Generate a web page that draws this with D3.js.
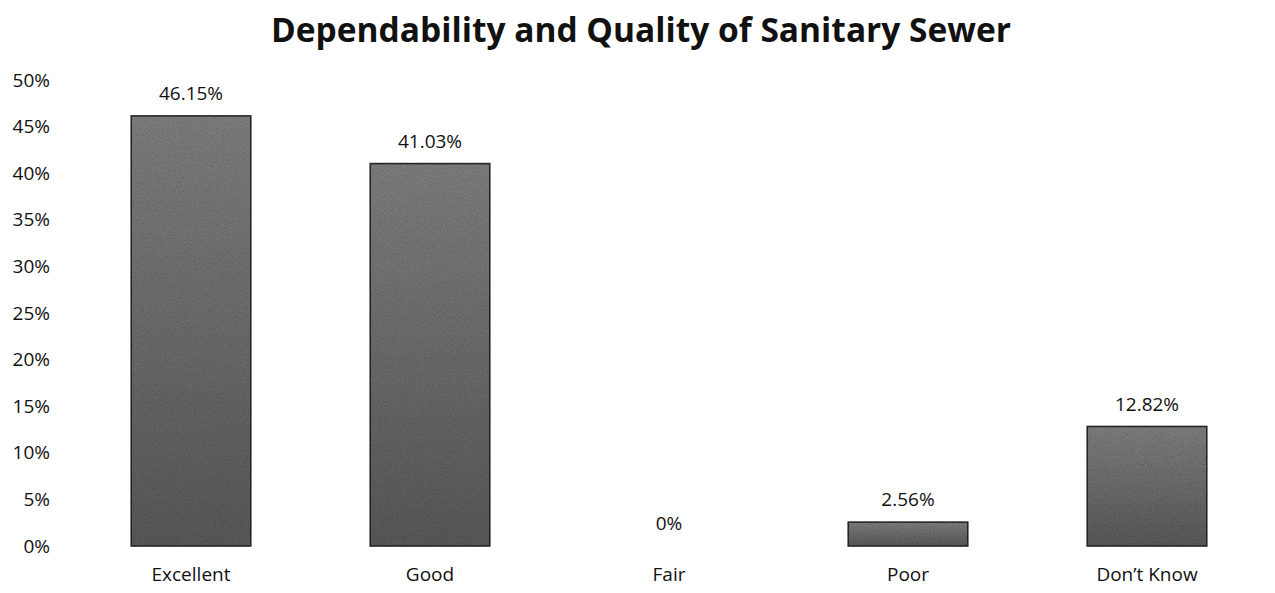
<!DOCTYPE html>
<meta charset="utf-8">
<script src="https://d3js.org/d3.v7.min.js"></script>
<style>
  body { margin: 0; background: #fff; }
  text { font-family: "Open Sans", sans-serif; fill: #111; }
</style>
<div class="chart"></div>
<script>
  // data
  const categories = ["Excellent", "Good", "Fair", "Poor", "Don\u2019t Know"];
  const values = [46.15, 41.03, 0, 2.56, 12.82];
  const valueLabels = ["46.15%", "41.03%", "0%", "2.56%", "12.82%"];
  const yTicks = [0, 5, 10, 15, 20, 25, 30, 35, 40, 45, 50];

  const width = 1275,
        height = 593;

  const svg = d3.select('.chart')
                .append('svg')
                .attr('width', width)
                .attr('height', height);

  const defs = svg.append("defs");
  const grad = defs.append("linearGradient")
                   .attr("id", "barFill")
                   .attr("x1", 0).attr("y1", 0)
                   .attr("x2", 0).attr("y2", 1);
  grad.append("stop").attr("offset", "0%").attr("stop-color", "#858585");
  grad.append("stop").attr("offset", "100%").attr("stop-color", "#5e5e5e");

  // speckle to look a bit like the scanned texture
  const filt = defs.append("filter").attr("id", "grain");
  filt.append("feTurbulence")
      .attr("type", "fractalNoise")
      .attr("baseFrequency", 0.9)
      .attr("numOctaves", 2)
      .attr("result", "noise");
  filt.append("feColorMatrix")
      .attr("in", "noise")
      .attr("type", "matrix")
      .attr("values", "0 0 0 0 0  0 0 0 0 0  0 0 0 0 0  0 0 0 0.6 -0.1")
      .attr("result", "dots");
  filt.append("feComposite")
      .attr("in", "dots")
      .attr("in2", "SourceGraphic")
      .attr("operator", "in")
      .attr("result", "dotsIn");
  const merge = filt.append("feMerge");
  merge.append("feMergeNode").attr("in", "SourceGraphic");
  merge.append("feMergeNode").attr("in", "dotsIn");

  const x = d3.scaleBand()
              .domain(categories)
              .range([71.5, 1266.5])
              .paddingInner(0.5)
              .paddingOuter(0.25);

  const y = d3.scaleLinear()
              .domain([0, 50])
              .range([546, 80]);

  // title
  svg.append("text")
     .attr("x", 641)
     .attr("y", 42)
     .attr("text-anchor", "middle")
     .style("font-size", "33.5px")
     .style("font-weight", "bold")
     .text("Dependability and Quality of Sanitary Sewer");

  // y axis (labels only)
  const yAxis = svg.append("g")
     .attr("transform", "translate(50,0)")
     .call(d3.axisLeft(y).tickValues(yTicks).tickSize(0).tickPadding(0)
             .tickFormat(d => d + "%"));
  yAxis.select(".domain").remove();
  yAxis.selectAll("text")
       .style("font-size", "19px")
       .attr("font-family", null);

  // x axis (labels only)
  const xAxis = svg.append("g")
     .attr("transform", "translate(0,546)")
     .call(d3.axisBottom(x).tickSize(0).tickPadding(22));
  xAxis.select(".domain").remove();
  xAxis.selectAll("text")
       .style("font-size", "19px")
       .attr("font-family", null);

  // bars
  svg.append("g")
     .selectAll("rect")
     .data(values)
     .enter()
     .append("rect")
     .attr("x", (d, i) => x(categories[i]))
     .attr("y", d => y(d))
     .attr("width", x.bandwidth())
     .attr("height", d => y(0) - y(d))
     .attr("fill", "url(#barFill)")
     .attr("filter", "url(#grain)")
     .style("stroke", "#2a2a2a")
     .style("stroke-width", 1.5)
     .style("display", d => d > 0 ? null : "none");

  // value labels
  svg.append("g")
     .selectAll("text")
     .data(values)
     .enter()
     .append("text")
     .attr("x", (d, i) => x(categories[i]) + x.bandwidth() / 2)
     .attr("y", d => y(d) - 16)
     .attr("text-anchor", "middle")
     .style("font-size", "19px")
     .text((d, i) => valueLabels[i]);
</script>
